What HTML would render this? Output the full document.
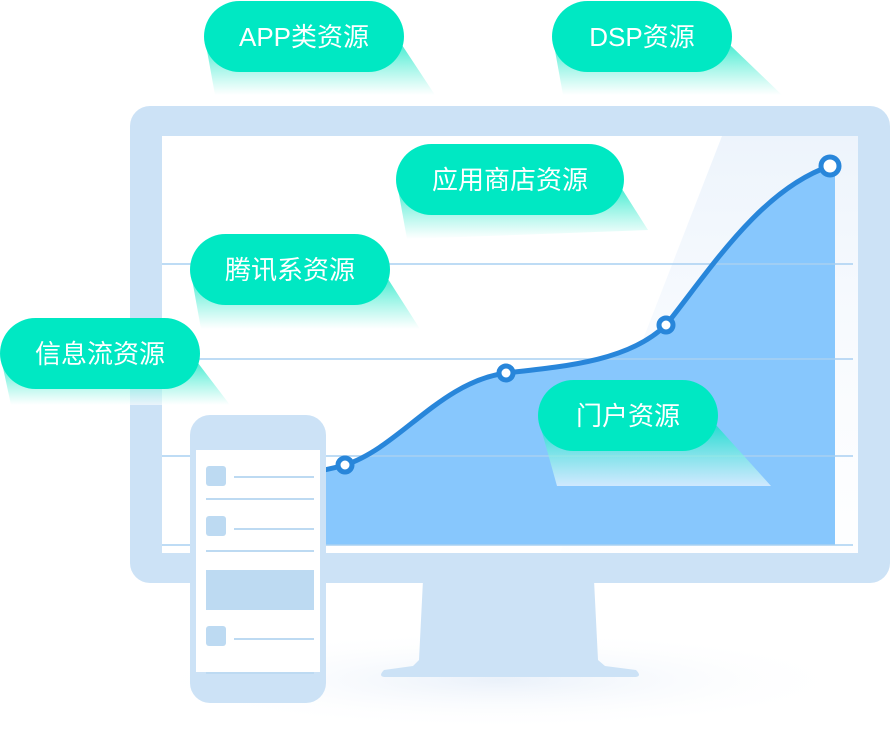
<!DOCTYPE html>
<html><head><meta charset="utf-8"><style>
html,body{margin:0;padding:0;background:#fff;width:890px;height:740px;overflow:hidden}
text{font-family:"Liberation Sans","Noto Sans CJK SC",sans-serif;font-size:26px;fill:#fff}
</style></head><body>
<svg width="890" height="740" viewBox="0 0 890 740" xmlns="http://www.w3.org/2000/svg">
<defs>
<linearGradient id="sh" x1="0" y1="0" x2="0" y2="1">
<stop offset="0" stop-color="#00e5c0" stop-opacity="0.7"/>
<stop offset="1" stop-color="#ffffff" stop-opacity="0.6"/>
</linearGradient>
<linearGradient id="beam" x1="0" y1="0" x2="0" y2="1">
<stop offset="0" stop-color="#edf4fc"/>
<stop offset="1" stop-color="#fafcff" stop-opacity="0.3"/>
</linearGradient>
<radialGradient id="floor" cx="0.5" cy="0.5" r="0.5">
<stop offset="0" stop-color="#eaf1fa"/>
<stop offset="1" stop-color="#ffffff" stop-opacity="0"/>
</radialGradient>
</defs>
<ellipse cx="500" cy="680" rx="360" ry="50" fill="url(#floor)"/>
<path d="M423,580 L594,580 L598,660 L605,666 L636,670 Q642,676 636,677 L384,677 Q378,676 384,670 L413,666 L419,660 Z" fill="#cce2f6"/>
<rect x="130" y="106" width="760" height="477" rx="20" fill="#cce2f6"/>
<rect x="162" y="136" width="696" height="417" fill="#ffffff"/>
<polygon points="722,136 858,136 858,553 560,553" fill="url(#beam)"/>
<path d="M320,471 C330,469 340,467 345,465 C400,447 440,382 506,373 C570,366 630,360 666,325 C710,270 760,190 830,166 L835,166 L835,545 L320,545 Z" fill="#87c7fd"/>
<g stroke="#a9d0f2" stroke-width="1.5">
<line x1="162" y1="264" x2="853" y2="264"/>
<line x1="162" y1="359" x2="853" y2="359"/>
<line x1="162" y1="456" x2="853" y2="456"/>
<line x1="162" y1="545" x2="853" y2="545"/>
</g>
<path d="M300,475 C320,471 335,468 345,465 C400,447 440,382 506,373 C570,366 630,360 666,325 C710,270 760,190 830,166" fill="none" stroke="#2886da" stroke-width="5"/>
<g fill="#fff" stroke="#2886da">
<circle cx="345" cy="465" r="7" stroke-width="5"/>
<circle cx="506" cy="373" r="7" stroke-width="5"/>
<circle cx="666" cy="325" r="7" stroke-width="5"/>
<circle cx="830" cy="166" r="9" stroke-width="5"/>
</g>
<rect x="190" y="415" width="136" height="288" rx="20" fill="#cce2f6"/>
<rect x="196" y="450" width="124" height="222" fill="#fff"/>
<g fill="#bddaf2">
<rect x="206" y="466" width="20" height="20" rx="3"/>
<rect x="206" y="516" width="20" height="20" rx="3"/>
<rect x="206" y="570" width="108" height="40"/>
<rect x="206" y="626" width="20" height="20" rx="3"/>
<rect x="234" y="476" width="80" height="2"/>
<rect x="206" y="498" width="108" height="2"/>
<rect x="234" y="528" width="80" height="2"/>
<rect x="206" y="550" width="108" height="2"/>
<rect x="234" y="638" width="80" height="2"/>
<rect x="206" y="672" width="108" height="2"/>
</g>
<g fill="url(#sh)">
<polygon points="206,45 215,95 435,95 402,45"/>
<polygon points="554,45 563,95 782,95 730,45"/>
<polygon points="398,189 407,239 648,230 622,189"/>
<polygon points="192,279 201,329 420,329 388,279"/>
<polygon points="2,363 11,405 230,405 198,363"/>
<polygon points="540,425 557,486 771,486 716,425"/>
</g>
<g fill="#00e8c3">
<rect x="204" y="1" width="200" height="71" rx="35.5"/>
<rect x="552" y="1" width="180" height="71" rx="35.5"/>
<rect x="396" y="144" width="228" height="71" rx="35.5"/>
<rect x="190" y="234" width="200" height="71" rx="35.5"/>
<rect x="0" y="318" width="200" height="71" rx="35.5"/>
<rect x="538" y="380" width="180" height="71" rx="35.5"/>
</g>
<g text-anchor="middle">
<text x="304" y="46">APP类资源</text>
<text x="642" y="46">DSP资源</text>
<text x="510" y="189">应用商店资源</text>
<text x="290" y="279">腾讯系资源</text>
<text x="100" y="363">信息流资源</text>
<text x="628" y="425">门户资源</text>
</g>
</svg>
</body></html>
